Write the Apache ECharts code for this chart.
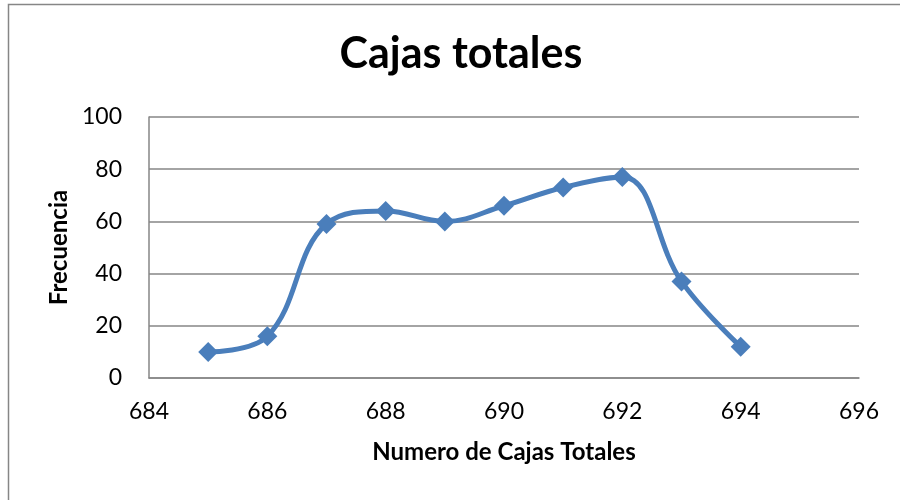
<!DOCTYPE html>
<html>
<head>
<meta charset="utf-8">
<script src="https://cdn.jsdelivr.net/npm/echarts@6/dist/echarts.min.js"></script>
<style>
  html, body { margin: 0; padding: 0; background: #fff; }
  #chart { width: 900px; height: 500px; }
</style>
</head>
<body>
<div id="chart"></div>
<script>
// Box totals and their frequencies
const cajas = [685, 686, 687, 688, 689, 690, 691, 692, 693, 694];
const frecuencia = [10, 16, 59, 64, 60, 66, 73, 77, 37, 12];

const FONT = 'Lato, "Open Sans", sans-serif';
const chart = echarts.init(document.getElementById('chart'));

chart.setOption({
  backgroundColor: '#ffffff',
  animation: false,
  title: {
    text: 'Cajas totales',
    left: 456,
    top: 28,
    textAlign: 'center',
    textStyle: { fontFamily: FONT, fontSize: 43, fontWeight: 'bold', color: '#000' }
  },
  graphic: [{
    type: 'rect',
    shape: { x: 8.5, y: 4.5, width: 1000, height: 1000 },
    style: { fill: 'none', stroke: '#868686', lineWidth: 1.5 },
    silent: true
  }],
  grid: { left: 149, top: 117, width: 710, height: 261, containLabel: false },
  xAxis: {
    type: 'value',
    min: 684,
    max: 696,
    interval: 2,
    name: 'Numero de Cajas Totales',
    nameLocation: 'middle',
    nameGap: 62,
    nameTextStyle: { fontFamily: FONT, fontSize: 24, fontWeight: 'bold', color: '#000' },
    axisLine: { show: true, lineStyle: { color: '#868686', width: 1.5 } },
    axisTick: { show: false },
    axisLabel: { fontFamily: FONT, fontSize: 23, color: '#000', margin: 22 },
    splitLine: { show: false }
  },
  yAxis: {
    type: 'value',
    min: 0,
    max: 100,
    interval: 20,
    name: 'Frecuencia',
    nameLocation: 'middle',
    nameGap: 72,
    nameRotate: 90,
    nameTextStyle: { fontFamily: FONT, fontSize: 24, fontWeight: 'bold', color: '#000' },
    axisLine: { show: true, lineStyle: { color: '#868686', width: 1.5 } },
    axisTick: { show: false },
    axisLabel: { fontFamily: FONT, fontSize: 23, color: '#000', margin: 27 },
    splitLine: { show: true, lineStyle: { color: '#868686', width: 1.5 } }
  },
  series: [{
    type: 'line',
    data: cajas.map((c, i) => [c, frecuencia[i]]),
    smooth: 0.4,
    symbol: 'diamond',
    symbolSize: 20,
    itemStyle: { color: '#4A7EBB' },
    lineStyle: { color: '#4A7EBB', width: 5 }
  }]
});
</script>
</body>
</html>
